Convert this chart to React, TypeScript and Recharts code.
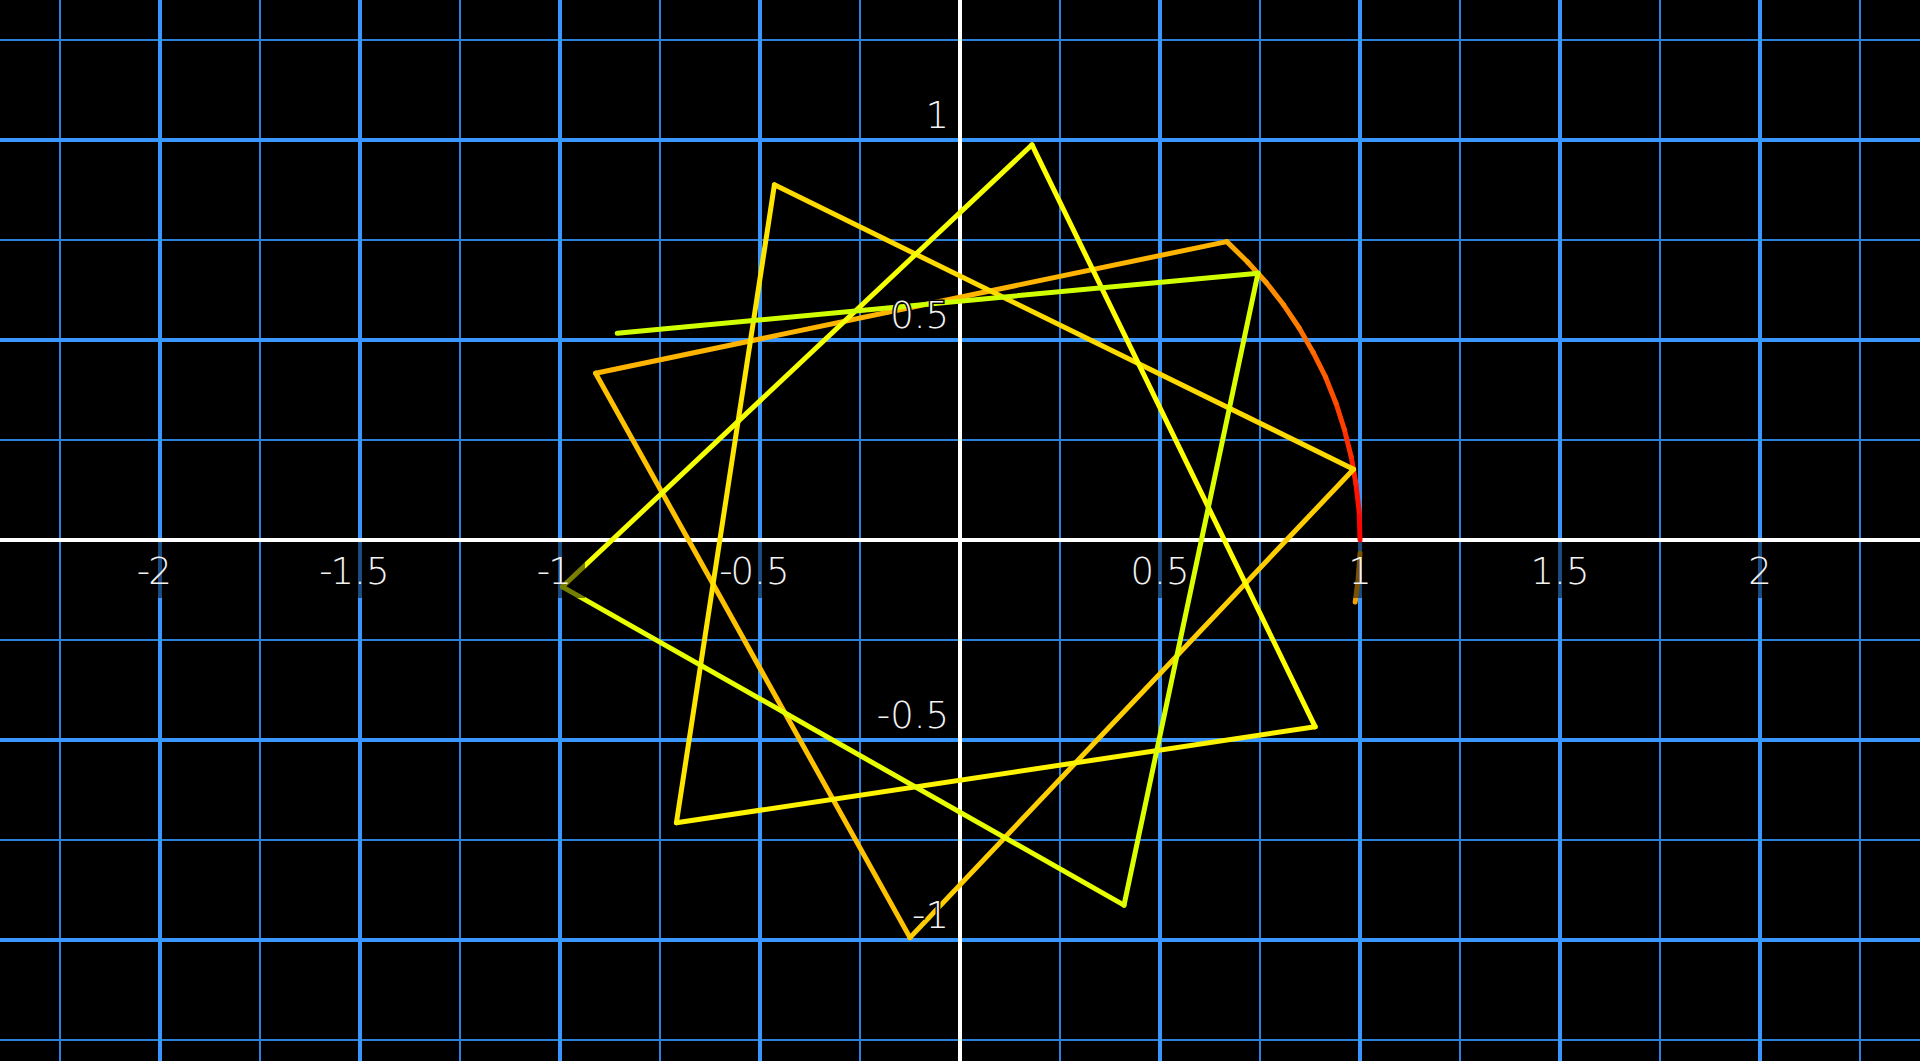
import React from "react";
import { ComposedChart, Line, Scatter, XAxis, YAxis } from "recharts";

// ---- grid values ----
const minorX = [-2.25, -1.75, -1.25, -0.75, -0.25, 0.25, 0.75, 1.25, 1.75, 2.25];
const majorX = [-2, -1.5, -1, -0.5, 0.5, 1, 1.5, 2];
const minorY = [1.25, 0.75, 0.25, -0.25, -0.75, -1.25];
const majorY = [1, 0.5, -0.5, -1];

// ---- tick labels ----
const xTickLabels = ["-2", "-1.5", "-1", "-0.5", "0.5", "1", "1.5", "2"];
const xTickValues = [-2, -1.5, -1, -0.5, 0.5, 1, 1.5, 2];
const yTickLabels = ["1", "0.5", "-0.5", "-1"];
const yTickValues = [1, 0.5, -0.5, -1];

// ---- curve: arc part ----
const arcX = [1, 0.998, 0.99, 0.978, 0.961, 0.94, 0.914, 0.883, 0.848, 0.809, 0.766, 0.719, 0.667];
const arcY = [0, 0.07, 0.139, 0.208, 0.276, 0.342, 0.407, 0.469, 0.53, 0.588, 0.643, 0.695, 0.746];
const arcColors = [
  "#ff0400", "#ff1200", "#ff2000", "#ff2e00", "#ff3e00", "#ff4e00",
  "#ff5e00", "#ff6e00", "#ff7e00", "#ff8c00", "#ff9a00", "#ffa800",
];

// ---- curve: chord part (star vertices) ----
const starX = [0.667, -0.911, -0.125, 0.984, -0.464, -0.709, 0.888, 0.18, -0.994, 0.41, 0.745, -0.857];
const starY = [0.746, 0.417, -0.994, 0.177, 0.888, -0.707, -0.467, 0.988, -0.117, -0.913, 0.667, 0.517];
const starColors = [
  "#ffb400", "#ffc200", "#ffce00", "#ffda00", "#ffe600", "#fff300",
  "#ffff00", "#f4ff00", "#e8ff00", "#dcff00", "#d0ff00",
];

// ---- small orange stroke below (1,0) ----
const tickX = [1.0, 0.995, 0.988];
const tickY = [-0.033, -0.1, -0.155];
const tickColor = "#f2a200";

const X_DOMAIN: [number, number] = [-2.4, 2.4];
const Y_DOMAIN: [number, number] = [-1.3025, 1.35];

const MAJOR_COLOR = "#3a97ff";
const MINOR_COLOR = "#2c7fda";
const CURVE_W = 5;

const FONT = '"DejaVu Sans ExtraLight", "DejaVu Sans", sans-serif';
const FONT_SIZE = 37;
const FONT_WEIGHT = 200;

let ctx: CanvasRenderingContext2D | null = null;
function measure(s: string): number {
  if (!ctx) {
    const c = document.createElement("canvas");
    ctx = c.getContext("2d");
  }
  if (!ctx) return s.length * 22;
  ctx.font = `${FONT_WEIGHT} ${FONT_SIZE}px ${FONT}`;
  return ctx.measureText(s).width;
}

const vLine = (x: number) => [
  { x, y: Y_DOMAIN[0] },
  { x, y: Y_DOMAIN[1] },
];
const hLine = (y: number) => [
  { x: X_DOMAIN[0], y },
  { x: X_DOMAIN[1], y },
];

function segmentsFrom(xs: number[], ys: number[]) {
  const out: { x: number; y: number }[][] = [];
  for (let i = 0; i < xs.length - 1; i++) {
    out.push([
      { x: xs[i], y: ys[i] },
      { x: xs[i + 1], y: ys[i + 1] },
    ]);
  }
  return out;
}

const arcSegs = segmentsFrom(arcX, arcY);
const starSegs = segmentsFrom(starX, starY);
const tickData = tickX.map((x, i) => ({ x, y: tickY[i] }));

const labelData = [
  ...xTickValues.map((v, i) => ({ x: v, y: 0, text: xTickLabels[i], kind: "x" })),
  ...yTickValues.map((v, i) => ({ x: 0, y: v, text: yTickLabels[i], kind: "y" })),
];

const textBase = {
  fontFamily: FONT,
  fontSize: FONT_SIZE,
  fontWeight: FONT_WEIGHT,
} as const;

const LABEL_FILL = "#f2f2f2";

function LabelShape(props: any) {
  const { cx, cy, payload } = props;
  if (cx == null || cy == null || !payload) return null;
  const text: string = payload.text;
  if (payload.kind === "x") {
    const neg = text.startsWith("-");
    const abs = neg ? text.slice(1) : text;
    const w = measure(abs);
    const by = cy + 44;
    return (
      <g>
        <rect x={cx - 25} y={cy + 2} width={50} height={56} fill="#000" opacity={0.5} />
        <text x={cx} y={by} textAnchor="middle" {...textBase} fill={LABEL_FILL}>
          {abs}
        </text>
        {neg && (
          <text x={cx - w / 2 + 2} y={by} textAnchor="end" {...textBase} fill={LABEL_FILL}>
            -
          </text>
        )}
      </g>
    );
  }
  return (
    <text
      x={cx - 11}
      y={cy - 12}
      textAnchor="end"
      {...textBase}
      fill={LABEL_FILL}
      stroke="#000"
      strokeWidth={3}
      paintOrder="stroke"
    >
      {text}
    </text>
  );
}

export default function App() {
  return (
    <div
      style={{
        position: "absolute",
        left: 0,
        top: 0,
        width: 1920,
        height: 1061,
        background: "#000",
        overflow: "hidden",
      }}
    >
      <ComposedChart
        width={1920}
        height={1061}
        margin={{ top: 0, right: 0, bottom: 0, left: 0 }}
      >
        <XAxis type="number" dataKey="x" domain={X_DOMAIN} allowDataOverflow hide />
        <YAxis type="number" dataKey="y" domain={Y_DOMAIN} allowDataOverflow hide />

        {minorX.map((v) => (
          <Line key={"mx" + v} data={vLine(v)} dataKey="y" stroke={MINOR_COLOR} strokeWidth={2} dot={false} isAnimationActive={false} activeDot={false} />
        ))}
        {minorY.map((v) => (
          <Line key={"my" + v} data={hLine(v)} dataKey="y" stroke={MINOR_COLOR} strokeWidth={2} dot={false} isAnimationActive={false} activeDot={false} />
        ))}
        {majorX.map((v) => (
          <Line key={"Mx" + v} data={vLine(v)} dataKey="y" stroke={MAJOR_COLOR} strokeWidth={4} dot={false} isAnimationActive={false} activeDot={false} />
        ))}
        {majorY.map((v) => (
          <Line key={"My" + v} data={hLine(v)} dataKey="y" stroke={MAJOR_COLOR} strokeWidth={4} dot={false} isAnimationActive={false} activeDot={false} />
        ))}

        <Line data={hLine(0)} dataKey="y" stroke="#ffffff" strokeWidth={4} dot={false} isAnimationActive={false} activeDot={false} />
        <Line data={vLine(0)} dataKey="y" stroke="#ffffff" strokeWidth={4} dot={false} isAnimationActive={false} activeDot={false} />

        {arcSegs.map((seg, i) => (
          <Line key={"arc" + i} type="linear" data={seg} dataKey="y" stroke={arcColors[i]} strokeWidth={CURVE_W} strokeLinecap="round" dot={false} isAnimationActive={false} activeDot={false} />
        ))}
        {starSegs.map((seg, i) => (
          <Line key={"star" + i} type="linear" data={seg} dataKey="y" stroke={starColors[i]} strokeWidth={CURVE_W} strokeLinecap="round" dot={false} isAnimationActive={false} activeDot={false} />
        ))}
        <Line type="linear" data={tickData} dataKey="y" stroke={tickColor} strokeWidth={CURVE_W} strokeLinecap="round" dot={false} isAnimationActive={false} activeDot={false} />

        <Scatter data={labelData} dataKey="y" shape={LabelShape} isAnimationActive={false} />
      </ComposedChart>
    </div>
  );
}
